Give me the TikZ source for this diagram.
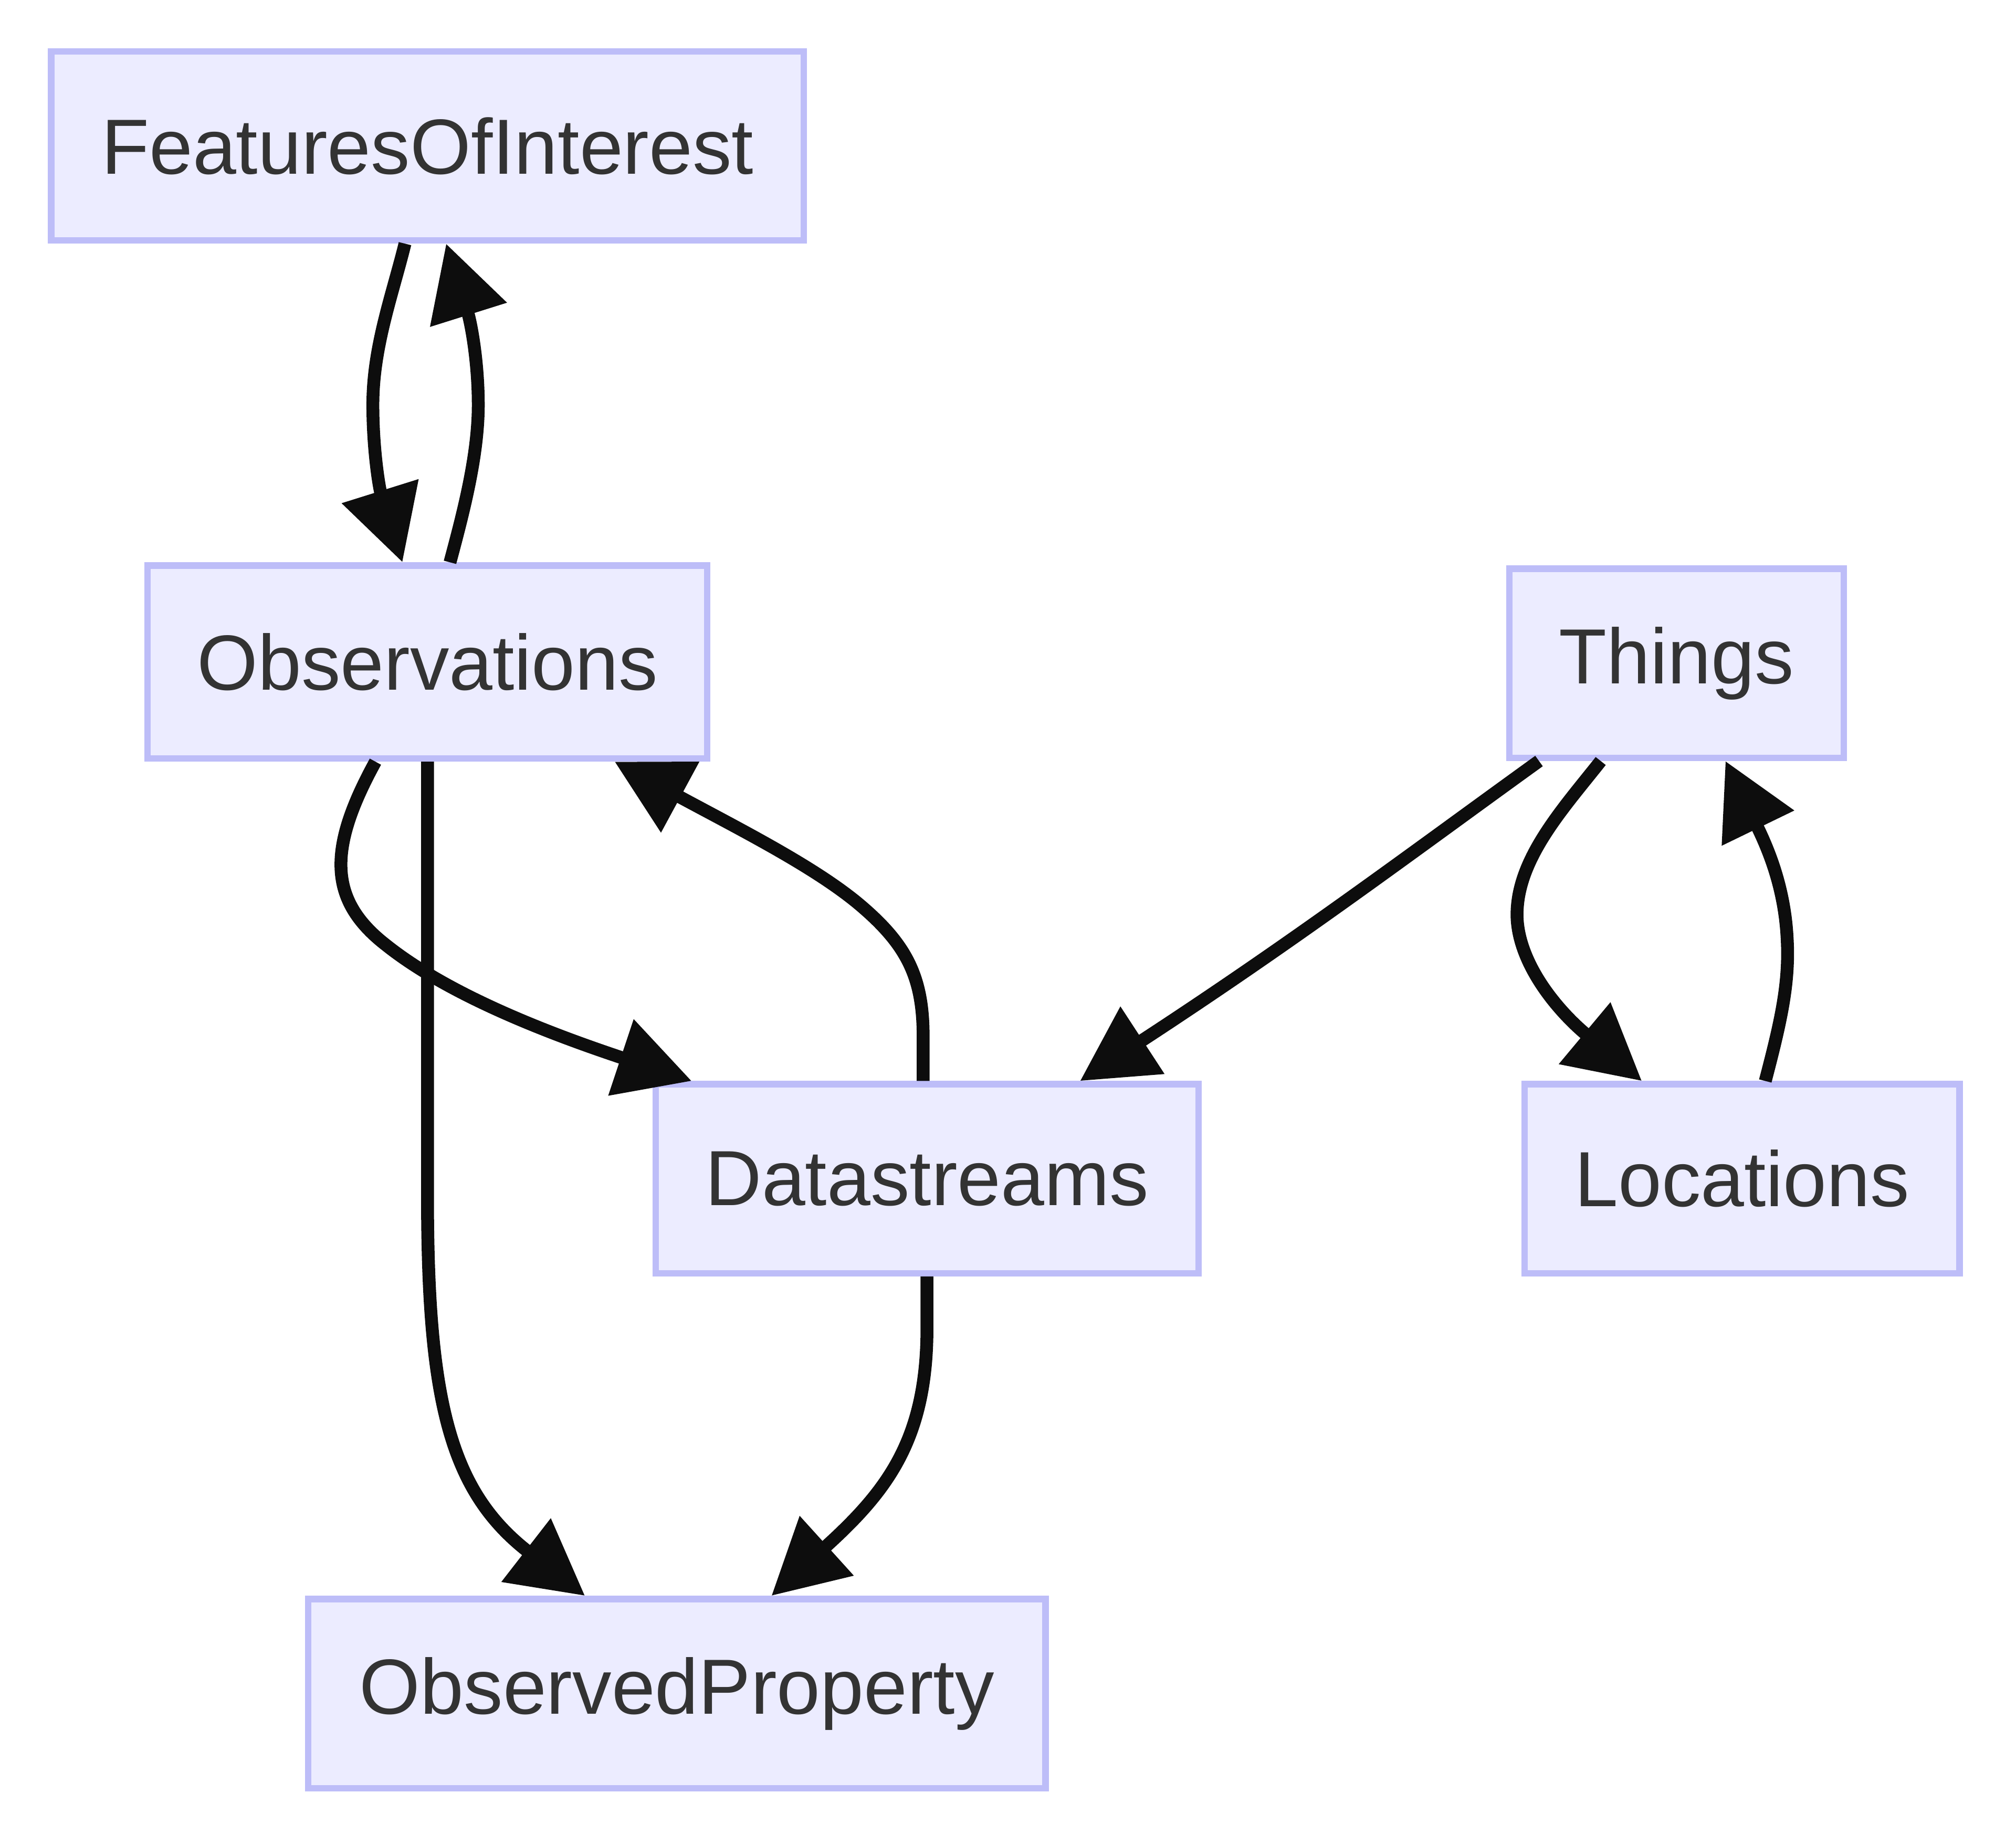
\documentclass[tikz,border=0pt]{standalone}
\usepackage{fontspec}
\setmainfont{Liberation Sans}
\usetikzlibrary{arrows.meta,calc}
\definecolor{nodefill}{HTML}{ECECFF}
\definecolor{nodeline}{HTML}{BDBDF8}
\definecolor{edgecol}{HTML}{0D0D0D}
\definecolor{txt}{HTML}{333333}
\begin{document}
\begin{tikzpicture}[x=0.01cm,y=-0.01cm,
  box/.style={draw=nodeline,fill=nodefill,line width=0.05cm,text=txt,
    font=\fontsize{17.3}{20}\selectfont,inner sep=0pt,minimum height=1.47cm},
  edge/.style={draw=edgecol,line width=0.1cm,-{Triangle[length=0.58cm,width=0.6cm]}}]
\useasboundingbox (0,0) rectangle (1568,1436);

\node[box,minimum width=5.85cm] (foi) at (332.5,113.5) {FeaturesOfInterest};
\node[box,minimum width=4.35cm,minimum height=1.50cm] (obs) at (332.5,515) {Observations};
\node[box,minimum width=2.60cm] (thi) at (1304,516) {Things};
\node[box,minimum width=4.22cm] (ds) at (721,917) {Datastreams};
\node[box,minimum width=3.38cm] (loc) at (1355,917) {Locations};
\node[box,minimum width=5.73cm] (op) at (526.5,1317.5) {ObservedProperty};

% FeaturesOfInterest -> Observations
\draw[edge] ($(foi.south)+(-17.5,0)$) .. controls (305,230) and (290,270) .. (290,315)
  .. controls (290,350) and (295,380) .. ($(obs.north)+(-19.5,0)$);
% Observations -> FeaturesOfInterest
\draw[edge] ($(obs.north)+(17.5,0)$) .. controls (360,400) and (372,355) .. (372,315)
  .. controls (372,280) and (366,250) .. ($(foi.south)+(14.5,0)$);
% Observations -> Datastreams
\draw[edge] ($(obs.south)+(-40.5,0)$) .. controls (255,660) and (255,700) .. (300,735)
  .. controls (350,775) and (430,805) .. ($(ds.north)+(-183,0)$);
% Datastreams -> Observations
\draw[edge] ($(ds.north)+(-3,0)$) -- ++(0,-35) .. controls (718,760) and (705,735) .. (670,705)
  .. controls (635,675) and (575,645) .. ($(obs.south)+(145.5,0)$);
% Observations -> ObservedProperty
\draw[edge] (obs.south) -- (332.5,930) .. controls (332.5,1090) and (350,1160) .. ($(op.north)+(-71.5,0)$);
% Datastreams -> ObservedProperty
\draw[edge] (ds.south) -- ++(0,40) .. controls (721,1120) and (690,1160) .. ($(op.north)+(73.5,0)$);
% Things -> Datastreams
\draw[edge] ($(thi.south)+(-107,0)$) .. controls (1100,662) and (1010,730) .. ($(ds.north)+(119,0)$);
% Things -> Locations
\draw[edge] ($(thi.south)+(-59,0)$) .. controls (1215,630) and (1178,670) .. (1180,715)
  .. controls (1182,750) and (1210,785) .. ($(loc.north)+(-78,0)$);
% Locations -> Things
\draw[edge] ($(loc.north)+(18,0)$) .. controls (1385,795) and (1392,765) .. (1390,730)
  .. controls (1388,690) and (1375,660) .. ($(thi.south)+(38,0)$);
\end{tikzpicture}
\end{document}
